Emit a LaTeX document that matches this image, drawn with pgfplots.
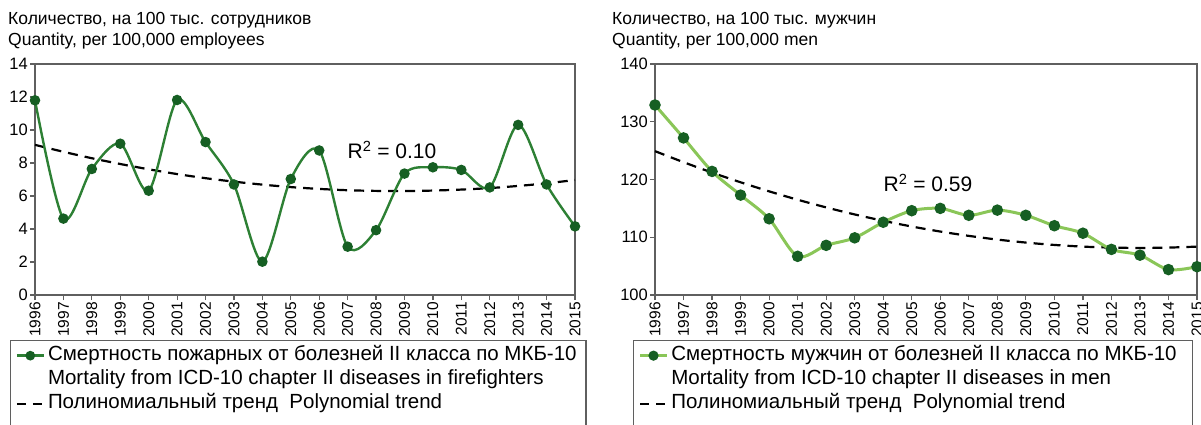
\documentclass[border=0pt]{standalone}
\usepackage{pgfplots}
\pgfplotsset{compat=1.18}
\usepackage{pgfplotstable}
\usepackage{fontspec}
\setmainfont{Liberation Sans}
\definecolor{dkgreen}{RGB}{45,128,52}
\definecolor{ltgreen}{RGB}{138,198,88}
\definecolor{mkgreen}{RGB}{22,95,35}
\definecolor{axgray}{RGB}{95,95,95}

\pgfplotstableread{
year fire ftrend men mtrend
1996 11.80 9.10 132.9 124.91
1997 4.63 8.68 127.2 123.00
1998 7.64 8.29 121.4 121.20
1999 9.17 7.94 117.3 119.52
2000 6.32 7.62 113.2 117.95
2001 11.82 7.33 106.7 116.50
2002 9.27 7.08 108.6 115.17
2003 6.70 6.87 109.9 113.95
2004 2.02 6.69 112.6 112.85
2005 7.03 6.54 114.6 111.86
2006 8.76 6.43 115.0 110.99
2007 2.93 6.35 113.8 110.24
2008 3.93 6.31 114.7 109.60
2009 7.36 6.30 113.8 109.08
2010 7.74 6.33 112.0 108.67
2011 7.58 6.39 110.7 108.38
2012 6.52 6.48 107.9 108.21
2013 10.31 6.61 106.9 108.15
2014 6.70 6.77 104.4 108.21
2015 4.16 6.97 104.9 108.38
}\datatab

\pgfplotsset{
  panel/.style={
    scale only axis, height=231pt,
    xmin=1996, xmax=2015,
    xtick={1996,1997,1998,1999,2000,2001,2002,2003,2004,2005,2006,2007,2008,2009,2010,2011,2012,2013,2014,2015},
    xticklabels={1996,1997,1998,1999,2000,2001,2002,2003,2004,2005,2006,2007,2008,2009,2010,2011,2012,2013,2014,2015},
    xticklabel style={rotate=90, anchor=east, font=\fontsize{15.5}{15.5}\selectfont, inner sep=2pt},
    yticklabel style={font=\fontsize{16.5}{16.5}\selectfont, inner sep=2pt},
    /pgf/number format/assume math mode=true,
    tick align=outside, tick pos=left,
    major tick length=5pt,
    axis line style={axgray, line width=1.4pt},
    every tick/.style={axgray, line width=1.2pt},
    clip=false,
    legend cell align=left,
    legend image code/.code={\draw[mark repeat=2,mark phase=2,##1] plot coordinates {(0pt,0pt) (13.5pt,0pt) (27pt,0pt)};},
    legend style={draw=axgray, line width=1.2pt, anchor=north west,
      font=\fontsize{20.5}{22}\selectfont, inner xsep=5pt, inner ysep=3pt,
      row sep=0pt, column sep=0pt,
      nodes={inner xsep=3pt, inner ysep=2pt, text height=15pt, text depth=5pt}},
  },
  trend/.style={black, line width=2.2pt, dash pattern=on 10pt off 7pt, smooth},
}

\begin{document}
\begin{tikzpicture}
\useasboundingbox (0pt,0pt) rectangle (1201pt,-424pt);

\node[anchor=base west, font=\fontsize{17.5}{20}\selectfont, inner sep=0pt] at (8pt,-24pt) {Количество, на 100 тыс. сотрудников};
\node[anchor=base west, font=\fontsize{17.5}{20}\selectfont, inner sep=0pt] at (8pt,-45pt) {Quantity, per 100,000 employees};
\node[anchor=base west, font=\fontsize{17.5}{20}\selectfont, inner sep=0pt] at (612pt,-24pt) {Количество, на 100 тыс. мужчин};
\node[anchor=base west, font=\fontsize{17.5}{20}\selectfont, inner sep=0pt] at (612pt,-45pt) {Quantity, per 100,000 men};

% Left panel
\begin{axis}[panel, width=540pt, at={(35pt,-295pt)}, anchor=south west,
  ymin=0, ymax=14, ytick={0,2,...,14},
  legend style={at={(-0.0463,-0.195)}}]
\addlegendimage{dkgreen, line width=2.4pt, mark=*, mark size=3.6pt, mark options={fill=mkgreen, draw=mkgreen}}
\addlegendentry{\makebox[530pt][l]{Смертность пожарных от болезней II класса по МКБ-10}}
\addlegendimage{empty legend}
\addlegendentry{Mortality from ICD-10 chapter II diseases in firefighters}
\addlegendimage{black, line width=2.2pt, dash pattern=on 9pt off 7pt}
\addlegendentry{Полиномиальный тренд\ \ Polynomial trend}
\addlegendimage{empty legend}
\addlegendentry{}
\addplot[trend, forget plot] table[x=year, y=ftrend] {\datatab};
\addplot[dkgreen, line width=2.4pt, smooth, mark=*, mark size=4pt, mark options={fill=mkgreen, draw=mkgreen, solid}, forget plot] table[x=year, y=fire] {\datatab};
\node[font=\fontsize{21}{22}\selectfont] at (axis cs:2008.56,8.8) {R\textsuperscript{2} = 0.10};
\end{axis}

% Right panel
\begin{axis}[panel, width=542pt, at={(655pt,-295pt)}, anchor=south west,
  ymin=100, ymax=140, ytick={100,110,...,140},
  legend style={at={(-0.0406,-0.195)}}]
\addlegendimage{ltgreen, line width=2.8pt, mark=*, mark size=3.6pt, mark options={fill=mkgreen, draw=mkgreen}}
\addlegendentry{\makebox[513pt][l]{Смертность мужчин от болезней II класса по МКБ-10}}
\addlegendimage{empty legend}
\addlegendentry{Mortality from ICD-10 chapter II diseases in men}
\addlegendimage{black, line width=2.2pt, dash pattern=on 9pt off 7pt}
\addlegendentry{Полиномиальный тренд\ \ Polynomial trend}
\addlegendimage{empty legend}
\addlegendentry{}
\addplot[trend, forget plot] table[x=year, y=mtrend] {\datatab};
\addplot[ltgreen, line width=3pt, smooth, mark=*, mark size=4.2pt, mark options={fill=mkgreen, draw=mkgreen, solid}, forget plot] table[x=year, y=men] {\datatab};
\node[font=\fontsize{21}{22}\selectfont] at (axis cs:2005.57,119.4) {R\textsuperscript{2} = 0.59};
\end{axis}
\end{tikzpicture}
\end{document}
